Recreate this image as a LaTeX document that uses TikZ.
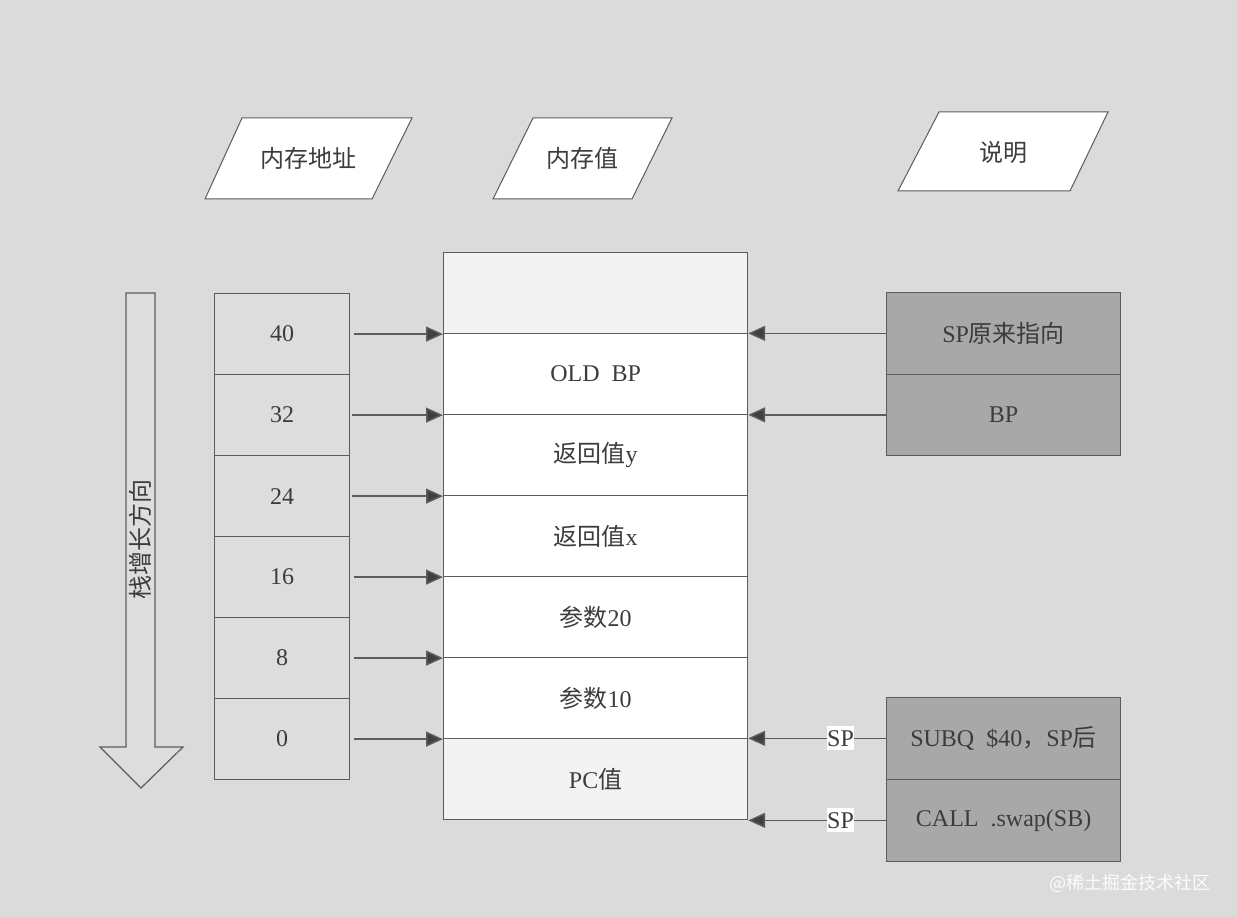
\documentclass[tikz,border=0pt]{standalone}
\usepackage{fontspec}
\setmainfont{Liberation Serif}
\newfontfamily\cjk{Noto Sans CJK SC}
\newcommand\zh[1]{{\cjk #1}}
\usetikzlibrary{arrows.meta}
\definecolor{bg}{HTML}{DBDBDB}
\definecolor{cellbg}{HTML}{DDDDDD}
\definecolor{darkbox}{HTML}{A8A8A8}
\definecolor{ink}{HTML}{3C3C3C}
\definecolor{linec}{HTML}{5C5C5C}
\definecolor{headc}{HTML}{404040}
\definecolor{offw}{HTML}{F3F3F3}
\begin{document}
\begin{tikzpicture}[x=1pt,y=-1pt,
  every node/.style={text=ink, font=\fontsize{24}{28}\selectfont},
  parabox/.style={draw=linec, line width=1pt, fill=white},
  bigarrow/.style={draw=linec, line width=1.2pt, fill=cellbg},
  addr/.style={draw=linec, line width=1.2pt, fill=cellbg, minimum width=135pt, minimum height=81pt, inner sep=0pt, anchor=north west},
  mem/.style={draw=linec, line width=1.2pt, fill=white, minimum width=304pt, minimum height=81pt, inner sep=0pt, anchor=north west},
  note/.style={draw=linec, line width=1.2pt, fill=darkbox, minimum width=234pt, minimum height=81.5pt, inner sep=0pt, anchor=north west},
  ptr/.style={draw=linec, line width=1.5pt, -{Triangle[length=17pt,width=15pt,fill=headc]}},
  splabel/.style={fill=white, inner xsep=0.5pt, inner ysep=4pt}
]
\useasboundingbox (0,0) rectangle (1237,917);
\fill[bg] (0,0) rectangle (1237,917);

% header parallelograms
\draw[parabox] (242,118) -- (412,118) -- (372,199) -- (205,199) -- cycle;
\node (h1) at (308,158) {\zh{内存地址}};
\draw[parabox] (533,118) -- (672,118) -- (632,199) -- (493,199) -- cycle;
\node (h2) at (582,158) {\zh{内存值}};
\draw[parabox] (939,112) -- (1108,112) -- (1070,191) -- (898,191) -- cycle;
\node (h3) at (1003,152) {\zh{说明}};

% growth arrow
\draw[bigarrow] (126,293) -- (155,293) -- (155,747) -- (183,747) -- (141,788) -- (100,747) -- (126,747) -- cycle;
\node[rotate=90] (grow) at (140,539) {\zh{栈增长方向}};

% address cells
\foreach \v [count=\i from 0] in {40,32,24,16,8,0}
  \node[addr] (a\v) at (214,{293+81*\i}) {\v};

% memory column
\node[mem, fill=offw] (m0) at (443,252) {};
\node[mem] (m1) at (443,333) {OLD~~BP};
\node[mem] (m2) at (443,414) {\zh{返回值}y};
\node[mem] (m3) at (443,495) {\zh{返回值}x};
\node[mem] (m4) at (443,576) {\zh{参数}20};
\node[mem] (m5) at (443,657) {\zh{参数}10};
\node[mem, fill=offw] (m6) at (443,738) {PC\zh{值}};

% address arrows
\draw[ptr] ([xshift=4pt]a40.east) -- (a40.east -| m1.west);
\draw[ptr] ([xshift=2pt]a32.east) -- (a32.east -| m2.west);
\draw[ptr] ([xshift=2pt]a24.east) -- (a24.east -| m3.west);
\draw[ptr] ([xshift=4pt]a16.east) -- (a16.east -| m4.west);
\draw[ptr] ([xshift=4pt]a8.east) -- (a8.east -| m5.west);
\draw[ptr] ([xshift=4pt]a0.east) -- (a0.east -| m6.west);

% notes
\node[note] (r1) at (886,292) {SP\zh{原来指向}};
\node[note] (r2) at (886,373.5) {BP};
\node[note] (r3) at (886,697) {SUBQ~~\$40\zh{，}SP\zh{后}};
\node[note] (r4) at (886,779) {CALL~~.swap(SB)};

% note arrows
\draw[ptr] (r1.west) -- (r1.west -| m1.east);
\draw[ptr] (r2.west) -- (r2.west -| m2.east);
\draw[ptr] (r3.west) -- (r3.west -| m6.east) node[pos=0.33, splabel] (sp1) {SP};
\draw[ptr] (r4.west) -- (r4.west -| m6.east) node[pos=0.33, splabel] (sp2) {SP};

% watermark
\node[text=white!92!bg, font=\cjk\fontsize{18}{20}\selectfont] (wm) at (1130,883) {@稀土掘金技术社区};
\end{tikzpicture}
\end{document}
